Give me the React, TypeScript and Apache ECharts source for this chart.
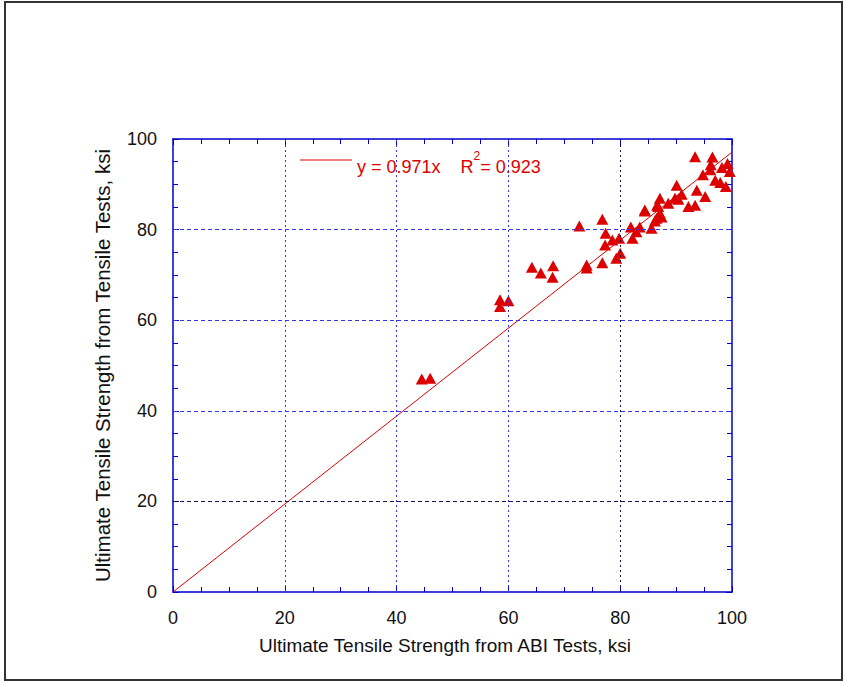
import React, { useEffect, useRef } from "react";
import * as echarts from "echarts";

const abiStrength: number[] = [
  44.5, 46.0, 58.5, 60.0, 58.5, 64.2, 65.8, 68.0, 67.9,
  72.7, 76.8, 77.4, 77.3, 78.6, 79.8, 76.8, 74.0, 74.0, 79.3, 80.0,
  81.9, 82.2, 83.5, 82.9, 84.4, 85.6, 86.5, 87.1, 86.6, 88.6,
  93.4, 96.5, 98.2, 99.2, 99.6, 96.2, 96.1, 94.8, 97.0, 97.9, 98.9,
  90.1, 93.7, 95.2, 91.0, 89.8, 90.4, 87.1, 86.8, 93.4, 92.2, 84.4, 87.4, 86.2,
];
const tensileStrength: number[] = [
  47.0, 47.2, 64.5, 64.3, 63.0, 71.7, 70.4, 72.0, 69.5,
  80.8, 82.3, 79.2, 76.6, 77.7, 78.1, 72.7, 71.5, 72.2, 73.7, 74.8,
  80.6, 78.1, 80.6, 79.5, 84.3, 80.3, 82.5, 83.6, 85.4, 85.8,
  96.1, 96.0, 93.7, 94.6, 92.8, 94.3, 93.2, 92.1, 90.9, 90.4, 89.5,
  89.8, 88.7, 87.3, 87.8, 86.9, 86.7, 86.9, 85.1, 85.4, 85.1, 84.1, 82.8, 81.9,
];
const fitSlope = 0.971;
const fitRange: number[] = [0, 100];
const gridTicks: number[] = [20, 40, 60, 80];
const darkXGrid = 80;
const darkYGrid = 20;

const BLUE = "#3434f0";
const DARK = "#141450";
const RED = "#dd0000";
const AXIS = "#0000cc";
const FONT = "'Liberation Sans', Arial, sans-serif";

export default function App() {
  const ref = useRef<HTMLDivElement>(null);
  useEffect(() => {
    if (!ref.current) return;
    const chart = echarts.init(ref.current, undefined, { renderer: "svg" });
    const points = abiStrength.map((x, i) => [x, tensileStrength[i]]);
    const fitLine = fitRange.map((x) => [x, fitSlope * x]);
    const gridLines = [
      ...gridTicks.map((t) => ({
        xAxis: t,
        lineStyle: { color: t === darkXGrid ? DARK : BLUE, type: [2, 3], width: 1 },
      })),
      ...gridTicks.map((t) => ({
        yAxis: t,
        lineStyle: { color: t === darkYGrid ? DARK : BLUE, type: [4, 3], width: 1 },
      })),
    ];
    const baseAxis = {
      min: 0,
      max: 100,
      interval: 20,
      axisLine: { show: true, onZero: false, lineStyle: { color: AXIS, width: 1.5 } },
      axisTick: { show: true, inside: true, length: 6, lineStyle: { color: AXIS } },
      minorTick: { show: true, splitNumber: 4, length: 5, lineStyle: { color: AXIS } },
      splitLine: { show: false },
    };
    chart.setOption({
      animation: false,
      backgroundColor: "#ffffff",
      grid: { left: 173, top: 139, right: 113, bottom: 91, containLabel: false },
      graphic: [
        {
          type: "rect",
          shape: { x: 5, y: 2, width: 837, height: 678 },
          style: { fill: "none", stroke: "#333", lineWidth: 2 },
          z: -10,
        },
      ],
      legend: {
        show: true,
        left: 300,
        top: 150,
        padding: 0,
        data: ["fit"],
        icon: "rect",
        itemWidth: 52,
        itemHeight: 1,
        itemGap: 4,
        formatter: () => "{a|y = 0.971x    R}{s|2}{a|= 0.923}",
        textStyle: {
          color: RED,
          fontFamily: FONT,
          fontSize: 18,
          rich: {
            a: { color: RED, fontFamily: FONT, fontSize: 18, padding: [14, 0, 0, 0] },
            s: { color: RED, fontFamily: FONT, fontSize: 12, verticalAlign: "top", padding: [6, 0, 0, 0] },
          },
        },
      },
      xAxis: [
        {
          ...baseAxis,
          type: "value",
          position: "bottom",
          name: "Ultimate Tensile Strength from ABI Tests, ksi",
          nameLocation: "middle",
          nameGap: 44,
          nameTextStyle: { color: "#111", fontFamily: FONT, fontSize: 19, padding: [0, 15, 0, 0] },
          axisLabel: { color: "#111", fontFamily: FONT, fontSize: 18, margin: 17 },
        },
        {
          ...baseAxis,
          type: "value",
          position: "top",
          axisLabel: { show: false },
        },
      ],
      yAxis: [
        {
          ...baseAxis,
          type: "value",
          position: "left",
          name: "Ultimate Tensile Strength from Tensile Tests, ksi",
          nameLocation: "middle",
          nameGap: 60,
          nameTextStyle: { color: "#111", fontFamily: FONT, fontSize: 20.5 },
          axisLabel: { color: "#111", fontFamily: FONT, fontSize: 18, margin: 16 },
        },
        {
          ...baseAxis,
          type: "value",
          position: "right",
          axisLabel: { show: false },
        },
      ],
      series: [
        {
          name: "fit",
          type: "line",
          data: fitLine,
          showSymbol: false,
          symbol: "none",
          lineStyle: { color: RED, width: 1 },
          itemStyle: { color: RED },
          z: 3,
          markLine: {
            silent: true,
            symbol: ["none", "none"],
            label: { show: false },
            animation: false,
            data: gridLines,
          },
        },
        {
          name: "data",
          type: "scatter",
          data: points,
          symbol: "triangle",
          symbolSize: [12, 11],
          itemStyle: { color: RED, opacity: 1 },
          z: 4,
        },
      ],
    });
    return () => chart.dispose();
  }, []);
  return (
    <div
      ref={ref}
      style={{ position: "fixed", left: 0, top: 0, width: 845, height: 683, background: "#fff" }}
    />
  );
}
